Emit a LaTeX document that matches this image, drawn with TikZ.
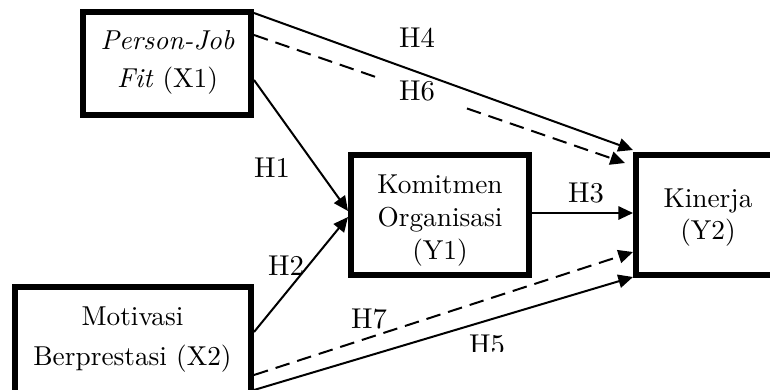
\documentclass[tikz,border=0pt]{standalone}
\usepackage{fontspec}
\setmainfont{lmroman10-regular.otf}[ItalicFont=lmroman10-italic.otf]
\usetikzlibrary{arrows.meta,calc}
\begin{document}
\begin{tikzpicture}[x=0.75pt,y=-0.75pt,
  box/.style={draw=black,line width=4.5pt,rectangle},
  txt/.style={align=center,inner sep=0pt,font=\fontsize{20.5}{24.75}\selectfont},
  hlab/.style={inner sep=0pt,font=\fontsize{21.5}{24}\selectfont},
  conn/.style={line width=1.5pt,-{Triangle[length=11pt,width=10pt]}},
  dconn/.style={conn,dash pattern=on 11pt off 6pt},
  seg/.style={line width=1.5pt,dash pattern=on 11pt off 6pt}]
\useasboundingbox (0,0) rectangle (770,389);
% boxes
\node[box,minimum width=126pt,minimum height=77.25pt] (X1) at (167,63.5) {};
\node[box,minimum width=177pt,minimum height=79.5pt] (X2) at (133,340) {};
\node[box,minimum width=133.5pt,minimum height=90pt] (Y1) at (440,215) {};
\node[box,minimum width=108pt,minimum height=90pt] (Y2) at (708,215) {};
% texts
\node[txt,font=\fontsize{20.5}{28.5}\selectfont] (tX1) at (167.5,62.4) {\textit{Person-Job}\\\textit{Fit} (X1)};
\node[txt,font=\fontsize{20.5}{30}\selectfont] (tX2) at (132.5,339.5) {Motivasi\\Berprestasi (X2)};
\node[txt] (tY1) at (440,220.5) {Komitmen\\Organisasi\\(Y1)};
\node[txt,font=\fontsize{20.5}{24}\selectfont] (tY2) at (708,217.5) {Kinerja\\(Y2)};
% connector end points
\coordinate (h4s) at ($(X1.north east)+(0,4)$);
\coordinate (h4e) at ($(Y2.north west)+(0,-2)$);
\coordinate (h6s) at ($(X1.north east)+(0,26)$);
\coordinate (h6e) at ($(Y2.north west)+(-8,11)$);
\coordinate (h6a) at ($(h6s)!0.34!(h6e)$);
\coordinate (h6b) at ($(h6s)!0.574!(h6e)$);
\coordinate (h1s) at ($(X1.east)+(0,16.5)$);
\coordinate (h1e) at ($(Y1.west)+(0,-4)$);
\coordinate (h2s) at ($(X2.north east)+(0,48)$);
\coordinate (h2e) at ($(Y1.west)+(0,2)$);
\coordinate (h3s) at ($(Y1.east)+(0,-2)$);
\coordinate (h3e) at ($(Y2.west)+(0,-2)$);
\coordinate (h7s) at ($(X2.north east)+(0,91)$);
\coordinate (h7e) at ($(Y2.west)+(0,37)$);
\coordinate (h5s) at ($(X2.north east)+(0,106)$);
\coordinate (h5e) at ($(Y2.south west)+(0,-1)$);
% connectors
\draw[conn] (h4s) -- (h4e);
\draw[seg] (h6s) -- (h6a);
\draw[dconn] (h6b) -- (h6e);
\draw[conn] (h1s) -- (h1e);
\draw[conn] (h2s) -- (h2e);
\draw[conn] (h3s) -- (h3e);
\draw[dconn] (h7s) -- (h7e);
\draw[conn] (h5s) -- (h5e);
% labels
\node[hlab] (L1) at (272,168) {H1};
\node[hlab] (L2) at (286,266) {H2};
\node[hlab] (L3) at (586,193) {H3};
\node[hlab] (L4) at (417,38) {H4};
\node[hlab] (L6) at (417,91) {H6};
\node[hlab] (L7) at (369,319) {H7};
\begin{scope}
\clip (0,0) rectangle (770,351);
\node[hlab] (L5) at (487,345) {H5};
\end{scope}
\end{tikzpicture}
\end{document}
